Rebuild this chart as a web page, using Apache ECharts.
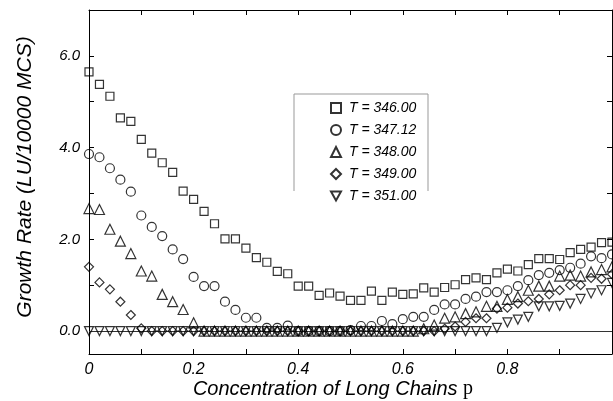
<!DOCTYPE html>
<html><head><meta charset="utf-8">
<script src="https://cdn.jsdelivr.net/npm/echarts@6/dist/echarts.min.js"></script>
<style>html,body{margin:0;padding:0;background:#fff}#c{width:613px;height:401px}</style>
</head><body><div id="c"></div>
<script>
// Concentration of long chains p
const pValues = [0,0.02,0.04,0.06,0.08,0.10,0.12,0.14,0.16,0.18,0.20,0.22,0.24,0.26,0.28,0.30,0.32,0.34,0.36,0.38,0.40,0.42,0.44,0.46,0.48,0.50,0.52,0.54,0.56,0.58,0.60,0.62,0.64,0.66,0.68,0.70,0.72,0.74,0.76,0.78,0.80,0.82,0.84,0.86,0.88,0.90,0.92,0.94,0.96,0.98,1.00];

const seriesNames = ['T = 346.00','T = 347.12','T = 348.00','T = 349.00','T = 351.00'];

const rateT346 = [5.65,5.38,5.12,4.65,4.57,4.18,3.88,3.67,3.46,3.05,2.87,2.61,2.34,2.01,2.01,1.81,1.60,1.50,1.30,1.25,0.98,0.98,0.78,0.83,0.76,0.67,0.67,0.87,0.67,0.85,0.80,0.81,0.94,0.85,0.95,1.01,1.12,1.16,1.12,1.27,1.35,1.31,1.45,1.58,1.58,1.56,1.71,1.78,1.83,1.93,1.94];
const rateT347 = [3.86,3.79,3.55,3.30,3.04,2.52,2.27,2.07,1.78,1.57,1.18,0.98,0.98,0.64,0.46,0.29,0.29,0.07,0.07,0.12,0,0,0,0,0,0.02,0.11,0.11,0.22,0.15,0.26,0.31,0.31,0.46,0.58,0.58,0.70,0.75,0.85,0.85,0.89,0.98,1.11,1.22,1.27,1.33,1.38,1.47,1.63,1.59,1.67];
const rateT348 = [2.67,2.65,2.22,1.96,1.69,1.31,1.20,0.80,0.64,0.47,0.18,0,0,0,0,0,0,0,0,0,0,0,0,0,0,0,0,0,0,0,0,0,0.05,0.13,0.28,0.31,0.38,0.42,0.54,0.54,0.69,0.75,0.89,0.98,0.98,1.20,1.22,1.20,1.29,1.34,1.40];
const rateT349 = [1.40,1.06,0.91,0.64,0.35,0.06,0,0,0,0,0,0,0,0,0,0,0,0,0,0,0,0,0,0,0,0,0,0,0,0,0,0,0,0,0.05,0.10,0.20,0.28,0.28,0.49,0.51,0.60,0.65,0.70,0.80,0.89,1.00,1.00,1.16,1.14,1.24];
const rateT351 = [0,0,0,0,0,0,0,0,0,0,0,0,0,0,0,0,0,0,0,0,0,0,0,0,0,0,0,0,0,0,0,0,0,0,0,0,0,0,0,0.07,0.19,0.25,0.31,0.54,0.54,0.55,0.60,0.70,0.82,0.89,1.05];

const xTickLabels = [0,0.2,0.4,0.6,0.8];
const xTicks = [0,0.1,0.2,0.3,0.4,0.5,0.6,0.7,0.8,0.9,1.0];
const yTickLabels = [0,2,4,6];
const yTicks = [0,1,2,3,4,5,6];

const FONT = '"Liberation Sans", Arial, Helvetica, sans-serif';
const allRates = [rateT346, rateT347, rateT348, rateT349, rateT351];
const symbols = ['rect','circle','triangle','diamond','path://M0,0L10,0L5,9Z'];
const sizes = [8,9,10,9,9];

const chart = echarts.init(document.getElementById('c'), null, {renderer:'canvas'});

const axisCommon = {
  type:'value', min:0, max:1,
  splitLine:{show:false},
  axisLine:{show:true, onZero:false, lineStyle:{color:'#000', width:1}},
  axisTick:{show:true, inside:true, length:5, customValues:xTicks, lineStyle:{color:'#000'}}
};
const yCommon = {
  type:'value', min:-0.5, max:7,
  splitLine:{show:false},
  axisLine:{show:true, onZero:false, lineStyle:{color:'#000', width:1}},
  axisTick:{show:true, inside:true, length:5, customValues:yTicks, lineStyle:{color:'#000'}}
};

const series = allRates.map((arr, i) => ({
  name: seriesNames[i],
  type:'scatter',
  xAxisIndex:0, yAxisIndex:0,
  symbol: symbols[i],
  symbolSize: sizes[i],
  data: pValues.map((p, j) => [p, arr[j]]),
  itemStyle:{color:'rgba(0,0,0,0)', borderColor:'#000', borderWidth:1.2},
  emphasis:{disabled:true},
  silent:true,
  z: 3
}));
series[0].markLine = {
  silent:true, symbol:['none','none'],
  label:{show:false},
  lineStyle:{color:'#333', width:1, type:'solid'},
  data:[{yAxis:0}],
  z: 1
};

chart.setOption({
  animation:false,
  backgroundColor:'#fff',
  grid:{left:89, top:10, right:1, bottom:47, containLabel:false},
  xAxis:[
    Object.assign({}, axisCommon, {position:'bottom',
      axisLabel:{show:true, customValues:xTickLabels, margin:8, color:'#000',
        fontStyle:'italic', fontSize:16, fontFamily:FONT,
        formatter:v => v === 0 ? '0' : v.toFixed(1)}}),
    Object.assign({}, axisCommon, {position:'top', axisLabel:{show:false}})
  ],
  yAxis:[
    Object.assign({}, yCommon, {position:'left',
      axisLabel:{show:true, customValues:yTickLabels, margin:9, color:'#000',
        fontStyle:'italic', fontSize:15, fontFamily:FONT,
        formatter:v => v.toFixed(1)}}),
    Object.assign({}, yCommon, {position:'right', axisLabel:{show:false}})
  ],
  legend:{
    data:seriesNames, orient:'vertical', left:330, top:101,
    itemWidth:10, itemHeight:10, itemGap:8, padding:0,
    selectedMode:false,
    textStyle:{fontStyle:'italic', fontSize:14, fontFamily:FONT, color:'#000', padding:[0,0,0,3]}
  },
  graphic:[
    {type:'polyline', shape:{points:[[294,191],[294,94],[428,94],[428,191]]},
     style:{stroke:'#999', lineWidth:1, fill:null}, silent:true},
    {type:'text', x:333, y:389,
     style:{text:'Concentration of Long Chains {p|p}', font:'italic 20px ' + FONT,
       fill:'#000', textAlign:'center', textVerticalAlign:'middle', align:'center', verticalAlign:'middle',
       rich:{p:{fontFamily:'"Liberation Serif", "Times New Roman", serif', fontStyle:'normal', fontSize:20, fill:'#000'}}},
     silent:true},
    {type:'text', x:25, y:177, rotation:Math.PI/2,
     style:{text:'Growth Rate (LU/10000 MCS)', font:'italic 21px ' + FONT,
       fill:'#000', textAlign:'center', textVerticalAlign:'middle', align:'center', verticalAlign:'middle'},
     silent:true}
  ],
  series: series
});
</script>
</body></html>
